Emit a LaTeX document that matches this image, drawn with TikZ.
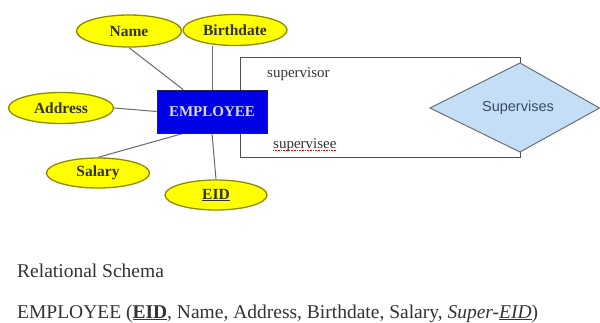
\documentclass[tikz,border=0pt]{standalone}
\usepackage{fontspec}
\setmainfont{Liberation Serif}
\newfontfamily\sansf{Liberation Sans}
\usetikzlibrary{shapes.geometric,backgrounds,calc}
\definecolor{attrfill}{HTML}{FFFF00}
\definecolor{attrline}{HTML}{8C8C00}
\definecolor{entfill}{HTML}{0000E6}
\definecolor{entline}{HTML}{202060}
\definecolor{enttext}{HTML}{D8D8D8}
\definecolor{relfill}{HTML}{C4DEF8}
\definecolor{relline}{HTML}{6A7078}
\definecolor{reltext}{HTML}{3A4A6A}
\definecolor{conn}{HTML}{6A6A6A}
\definecolor{boxline}{HTML}{505050}
\definecolor{txt}{HTML}{333333}
\begin{document}
\begin{tikzpicture}[x=1pt,y=-1pt,
  attr/.style={ellipse,fill=attrfill,draw=attrline,line width=1.3pt,inner sep=0pt,
    font=\bfseries\fontsize{15.5}{17}\selectfont,text=black!80},
  entity/.style={rectangle,fill=entfill,draw=entline,line width=0.8pt,inner sep=0pt,
    minimum width=110pt,minimum height=43pt,text=enttext,font=\bfseries\fontsize{15}{17}\selectfont},
  relshape/.style={fill=relfill,draw=relline,line width=1pt,line join=miter},
  reltxt/.style={inner sep=0pt,font=\sansf\fontsize{14.5}{16}\selectfont,text=reltext},
  connector/.style={draw=conn,line width=1pt},
  boxedge/.style={draw=boxline,line width=1pt},
  role/.style={inner sep=0pt,anchor=base west,font=\fontsize{15}{17}\selectfont,text=txt},
  schema/.style={inner sep=0pt,anchor=base west,font=\fontsize{19.5}{22}\selectfont,text=txt}]
\useasboundingbox (0,0) rectangle (600,322);

\node[attr,minimum width=105pt,minimum height=32pt] (name) at (129,31) {Name};
\node[attr,minimum width=104pt,minimum height=31pt] (bdate) at (235,30) {Birthdate};
\node[attr,minimum width=105pt,minimum height=31pt] (addr) at (61,108) {Address};
\node[attr,minimum width=103pt,minimum height=30pt] (sal) at (98,173) {Salary};
\node[attr,minimum width=102pt,minimum height=30pt] (eid) at (216,195) {\underline{EID}};
\node[entity] (emp) at (212,111.5) {EMPLOYEE};

% relationship diamond (asymmetric, as in the reference)
\coordinate (dtop) at (520,63);
\coordinate (dright) at (599.5,108);
\coordinate (dbot) at (520,152);
\coordinate (dleft) at (430,108);
\filldraw[relshape] (dtop) -- (dright) -- (dbot) -- (dleft) -- cycle;
\node[reltxt] (sup) at (518,108) {Supervises};

\coordinate (tr) at (520,57);
\coordinate (tl) at (240,57);
\coordinate (bl) at (240,157);
\coordinate (br) at (520,157);

\node[role] (svr) at (267,77) {supervisor};
\node[role] (sve) at (273,148) {supervisee};
\draw[red,densely dotted,line width=0.6pt] ([yshift=-2.5pt]sve.base west) -- ([yshift=-2.5pt]sve.base east);

\begin{scope}[on background layer]
  \fill[white] (0,0) rectangle (600,322);
  \draw[connector] (name.south) -- ($(emp.north west)!0.24!(emp.north east)$);
  \draw[connector] (emp.north) -- (emp.north |- bdate.south);
  \draw[connector] (addr.east) -- (emp.west);
  \draw[connector] (sal.north) -- ($(emp.south west)!0.24!(emp.south east)$);
  \draw[connector] (emp.south) -- (eid.north);
  \draw[boxedge] (dtop) -- (tr) -- (tl) -- (bl) -- (br) -- (dbot);
\end{scope}

\node[schema] (title) at (17,277) {Relational Schema};
\node[schema] (schema) at (17,318) {EMPLOYEE (\textbf{\underline{EID}}, Name, Address, Birthdate, Salary, \textit{Super-\underline{EID}})};
\end{tikzpicture}
\end{document}
